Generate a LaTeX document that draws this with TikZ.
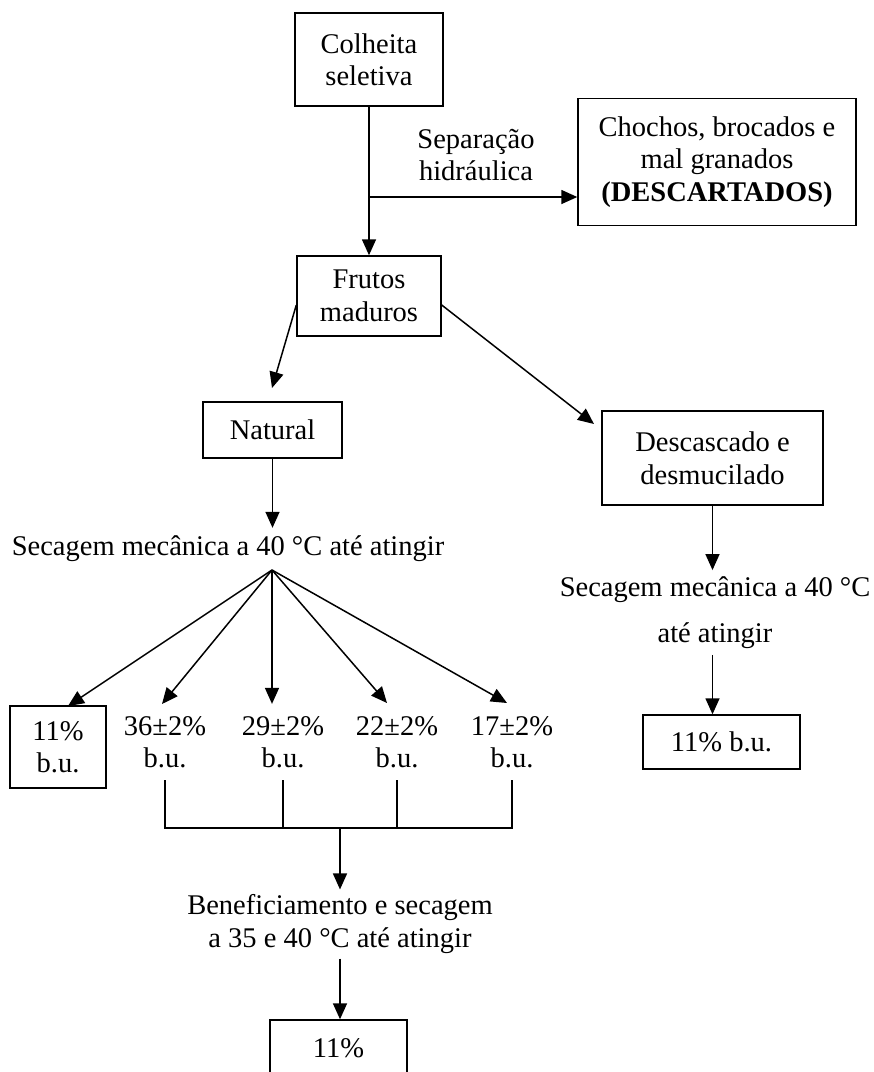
\documentclass[tikz,border=0pt]{standalone}
\usepackage{fontspec}
\setmainfont{Liberation Serif}
\usetikzlibrary{arrows.meta}

\begin{document}
\begin{tikzpicture}[x=1pt, y=-1pt]

\tikzstyle{box} = [rectangle, draw=black, line width=1.4pt, inner sep=0pt, align=center, font=\fontsize{28.5}{32.5}\selectfont]
\tikzstyle{plain_text} = [inner sep=0pt, align=center, font=\fontsize{28.5}{32.5}\selectfont]
\tikzstyle{value_text} = [plain_text, inner sep=12pt]
\tikzstyle{edge} = [-{Triangle[length=16pt, width=14pt]}, line width=1.5pt]
\tikzstyle{link_line} = [line width=1.5pt]

\useasboundingbox (0,0) rectangle (874,1072);

%------------------------------------------------------------
	\node[box, minimum width=148pt, minimum height=93pt] (colheita) at (369,59.5) {Colheita\\seletiva};
	\node[box, minimum width=278pt, minimum height=127pt] (chochos) at (717,162) {Chochos, brocados e\\mal granados\\\textbf{(DESCARTADOS)}};
	\node[plain_text] (separacao) at (476,155) {Separação\\hidráulica};
	\node[box, minimum width=144pt, minimum height=80pt] (frutos) at (369,296) {Frutos\\maduros};

%------------------------------------------------------------
	\node[box, minimum width=139pt, minimum height=56pt] (natural) at (272.5,430) {Natural};
	\node[plain_text, inner sep=8pt] (secagem_nat) at (228,549) {Secagem mecânica a 40 °C até atingir};

	\node[box, minimum width=96pt, minimum height=82pt] (umido_11) at (58,747) {11\%\\b.u.};
	\node[value_text] (umido_36) at (165,742) {36±2\%\\b.u.};
	\node[value_text] (umido_29) at (283,742) {29±2\%\\b.u.};
	\node[value_text] (umido_22) at (397,742) {22±2\%\\b.u.};
	\node[value_text] (umido_17) at (512,742) {17±2\%\\b.u.};

	\node[plain_text, inner sep=5pt] (benef) at (340,924) {Beneficiamento e secagem\\a 35 e 40 °C até atingir};
	\node[box, minimum width=137pt, minimum height=56pt] (final_11) at (338.5,1048) {11\%};

%------------------------------------------------------------
	\node[box, minimum width=221pt, minimum height=94pt] (descascado) at (712.5,458) {Descascado e\\desmucilado};
	\node[plain_text, inner sep=6pt] (secagem_cd) at (715,612.5) {Secagem mecânica a 40 °C\\[14pt]até atingir};
	\node[box, minimum width=157pt, minimum height=54pt] (cd_11) at (721.5,742) {11\% b.u.};

%------------------------------------------------------------
	\coordinate (split) at (369,197);
	\coordinate (nat_in) at (272,388);
	\coordinate (cd_in) at (594,424);
	\coordinate (apex) at (272,570);
	\coordinate (tip_11) at (68,706);
	\coordinate (tip_36) at (162,704);
	\coordinate (tip_22) at (387,703);
	\coordinate (tip_17) at (507,703);
	\coordinate (bar) at (340,828);

	\draw[link_line] (colheita) -- (split);
	\draw[edge] (split) -- (frutos);
	\draw[edge] (split) -- (split -| chochos.west);

	\draw[edge] ([yshift=-9pt]frutos.west) -- (nat_in);
	\draw[edge] ([yshift=-9pt]frutos.east) -- (cd_in);

	\draw[edge] (natural) -- (natural |- secagem_nat.north);
	\draw[edge] (apex) -- (tip_11);
	\draw[edge] (apex) -- (tip_36);
	\draw[edge] (apex) -- (apex |- umido_29.north);
	\draw[edge] (apex) -- (tip_22);
	\draw[edge] (apex) -- (tip_17);

	\draw[link_line] (umido_36.south) |- (bar) -| (umido_17.south);
	\draw[link_line] (umido_29.south) -- (umido_29.south |- bar);
	\draw[link_line] (umido_22.south) -- (umido_22.south |- bar);
	\draw[edge] (bar) -- (bar |- benef.north);
	\draw[edge] (bar |- benef.south) -- (bar |- final_11.north);

	\draw[edge] (descascado) -- (descascado |- secagem_cd.north);
	\draw[edge] (descascado |- secagem_cd.south) -- (descascado |- cd_11.north);

\end{tikzpicture}
\end{document}
